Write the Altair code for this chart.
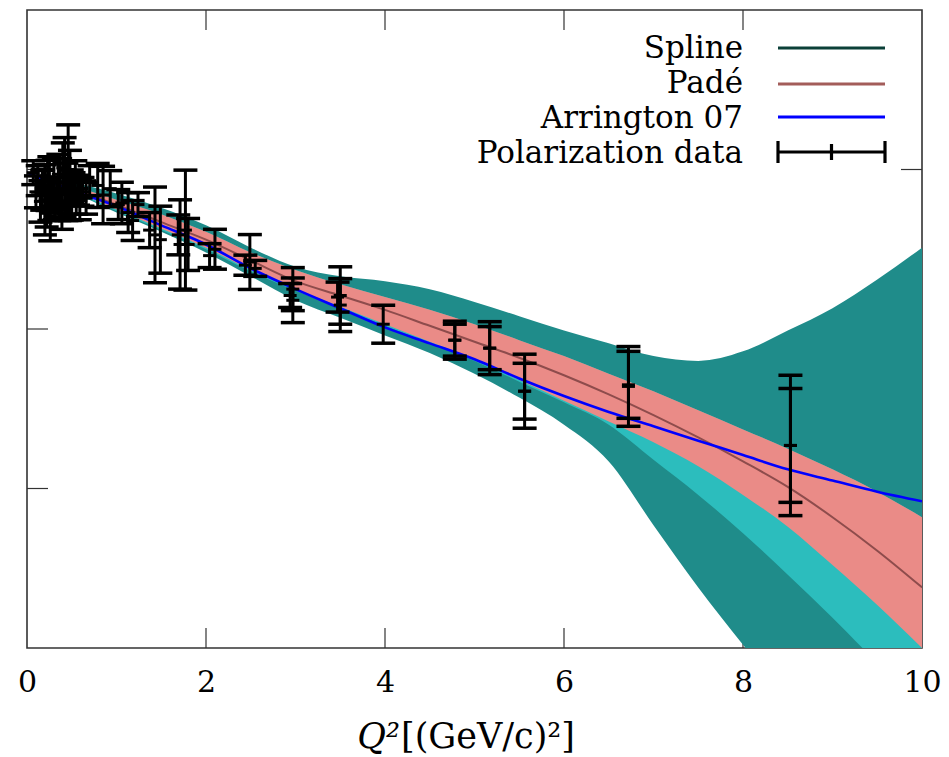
import altair as alt
import pandas as pd

# ---------------- data ----------------
q2_grid = [0, 0.5, 1, 1.5, 2, 2.5, 3, 3.5, 4, 4.5, 5, 5.5, 6, 6.5, 7, 7.5, 8, 8.5, 9, 9.5, 10]

arrington = [2.98, 2.87, 2.77, 2.65, 2.53, 2.38, 2.25, 2.13, 2.01, 1.91, 1.81,
             1.69, 1.58, 1.48, 1.39, 1.30, 1.21, 1.12, 1.05, 0.98, 0.92]
pade = [2.98, 2.88, 2.78, 2.67, 2.56, 2.43, 2.30, 2.21, 2.12, 2.02, 1.92,
        1.82, 1.71, 1.59, 1.46, 1.32, 1.17, 1.01, 0.82, 0.61, 0.38]
pade_hi = [2.98, 2.90, 2.81, 2.72, 2.61, 2.48, 2.37, 2.28, 2.20, 2.12, 2.03,
           1.93, 1.83, 1.72, 1.61, 1.49, 1.37, 1.25, 1.12, 0.98, 0.82]
pade_lo = [2.98, 2.87, 2.75, 2.63, 2.51, 2.37, 2.25, 2.14, 2.03, 1.92, 1.81,
           1.68, 1.55, 1.42, 1.29, 1.14, 0.96, 0.76, 0.52, 0.27, 0.00]
spline_in_hi = [2.98, 2.90, 2.81, 2.72, 2.61, 2.48, 2.37, 2.28, 2.20, 2.12, 2.03,
                1.93, 1.83, 1.72, 1.61, 1.49, 1.37, 1.25, 1.12, 0.98, 0.82]
spline_in_lo = [2.98, 2.86, 2.74, 2.62, 2.50, 2.36, 2.24, 2.13, 2.02, 1.91, 1.80,
                1.67, 1.54, 1.40, 1.18, 0.96, 0.72, 0.46, 0.19, -0.09, -0.33]
spline_out_hi = [2.98, 2.92, 2.85, 2.76, 2.65, 2.51, 2.39, 2.33, 2.30, 2.25, 2.17,
                 2.08, 1.99, 1.91, 1.83, 1.80, 1.86, 1.99, 2.13, 2.31, 2.51]
spline_out_lo = [2.98, 2.86, 2.73, 2.61, 2.48, 2.33, 2.18, 2.07, 1.96, 1.85, 1.72,
                 1.57, 1.40, 1.17, 0.77, 0.38, 0.02, -0.33, -0.64, -0.95, -1.27]

pts_q2 = [0.07, 0.12, 0.17, 0.20, 0.23, 0.28, 0.31, 0.35, 0.37, 0.40, 0.42, 0.46, 0.48, 0.50, 0.54, 0.57, 0.59, 0.39, 0.26,
          0.10, 0.15, 0.18, 0.22, 0.25, 0.30, 0.33, 0.36, 0.44, 0.52, 0.55, 0.62, 0.66,
          0.70, 0.79, 0.85, 0.93,
          1.02, 1.06, 1.13, 1.18, 1.24,
          1.37, 1.43, 1.49,
          1.69, 1.77, 1.71, 1.80,
          2.04, 2.10,
          2.49, 2.44, 2.55,
          2.97, 2.97, 2.94,
          3.50, 3.50, 3.47,
          3.98,
          4.78, 4.78,
          5.17, 5.17,
          5.56, 5.56,
          6.72, 6.72,
          8.53, 8.53]
pts_val = [2.98, 2.93, 2.87, 2.81, 2.90, 2.84, 2.78, 2.97, 2.88, 3.01, 2.95, 3.00, 2.90, 2.84, 2.93, 2.87, 2.81, 2.75, 2.71,
           2.86, 2.80, 2.92, 2.76, 2.88, 2.92, 2.85, 2.80, 2.86, 2.88, 2.80, 2.86, 2.82,
           2.93, 2.90, 2.84, 2.88,
           2.78, 2.79, 2.73, 2.68, 2.78,
           2.62, 2.59, 2.56,
           2.59, 2.62, 2.53, 2.53,
           2.46, 2.50,
           2.42, 2.40, 2.38,
           2.25, 2.18, 2.21,
           2.21, 2.15, 2.20,
           2.03,
           1.93, 1.93,
           1.88, 1.88,
           1.61, 1.61,
           1.64, 1.65,
           1.27, 1.27]
pts_err = [0.075, 0.094, 0.125, 0.22, 0.157, 0.113, 0.094, 0.125, 0.188, 0.157, 0.25, 0.28, 0.22, 0.157, 0.125, 0.094, 0.125, 0.125, 0.157,
           0.10, 0.13, 0.08, 0.12, 0.20, 0.15, 0.10, 0.12, 0.18, 0.10, 0.08, 0.09, 0.10,
           0.094, 0.138, 0.18, 0.113,
           0.094, 0.13, 0.125, 0.125, 0.075,
           0.11, 0.30, 0.21,
           0.125, 0.376, 0.28, 0.163,
           0.075, 0.125,
           0.172, 0.063, 0.05,
           0.135, 0.14, 0.075,
           0.18, 0.166, 0.094,
           0.119,
           0.119, 0.10,
           0.166, 0.135,
           0.232, 0.175,
           0.25, 0.21,
           0.44, 0.357]

x_tick_labels = [0, 2, 4, 6, 8, 10]
x_inner_ticks = [2, 4, 6, 8]
y_inner_ticks = [1, 2, 3]

legend_labels = ["Spline", "Padé", "Arrington 07", "Polarization data"]

# ---------------- styling ----------------
W, H = 895, 638
FONT = "DejaVu Serif"
C_OUT = "#1f8c8a"
C_IN = "#2cbdbd"
C_PINK = "#ea8b87"
C_PADE = "#8e4c4c"
C_PADE_LEG = "#a35d5a"
C_SPLINE_LEG = "#0b4038"
C_BLUE = "#0000ff"
C_FRAME = "#333333"

curves = pd.DataFrame({
    "q2": q2_grid, "arr": arrington, "pade": pade,
    "p_hi": pade_hi, "p_lo": pade_lo,
    "si_hi": spline_in_hi, "si_lo": spline_in_lo,
    "so_hi": spline_out_hi, "so_lo": spline_out_lo,
})
pts = pd.DataFrame({"q2": pts_q2, "val": pts_val, "err": pts_err})
pts["lo"] = pts["val"] - pts["err"]
pts["hi"] = pts["val"] + pts["err"]

xs = alt.Scale(domain=[0, 10], nice=False, zero=False)
ys = alt.Scale(domain=[0, 4], nice=False, zero=False)
xaxis = alt.Axis(values=x_tick_labels, ticks=False, tickSize=0, domain=False, grid=False,
                 labelFont=FONT, labelFontSize=30, labelColor="black", labelPadding=19,
                 labelFlush=False, title=None)


def X(f):
    return alt.X(f, type="quantitative", scale=xs, axis=xaxis)


def Y(f):
    return alt.Y(f, type="quantitative", scale=ys, axis=None)


layers = []

# inward ticks (drawn first, below bands)
xt = pd.DataFrame({"t": x_inner_ticks})
yt = pd.DataFrame({"t": y_inner_ticks})
tick_style = dict(color=C_FRAME, strokeWidth=1.2)
layers.append(alt.Chart(xt).mark_rule(**tick_style).encode(x=X("t"), y=alt.value(H), y2=alt.value(H - 20)))
layers.append(alt.Chart(xt).mark_rule(**tick_style).encode(x=X("t"), y=alt.value(0), y2=alt.value(20)))
layers.append(alt.Chart(yt).mark_rule(**tick_style).encode(y=Y("t"), x=alt.value(0), x2=alt.value(21)))
layers.append(alt.Chart(yt).mark_rule(**tick_style).encode(y=Y("t"), x=alt.value(W - 21), x2=alt.value(W)))

# bands
base = alt.Chart(curves)
layers.append(base.mark_area(color=C_OUT, interpolate="monotone", clip=True, opacity=1)
              .encode(x=X("q2"), y=Y("so_lo"), y2=alt.Y2("so_hi")))
layers.append(base.mark_area(color=C_IN, interpolate="monotone", clip=True, opacity=1)
              .encode(x=X("q2"), y=Y("si_lo"), y2=alt.Y2("si_hi")))
layers.append(base.mark_area(color=C_PINK, interpolate="monotone", clip=True, opacity=1)
              .encode(x=X("q2"), y=Y("p_lo"), y2=alt.Y2("p_hi")))
layers.append(base.mark_line(color=C_PADE, strokeWidth=2, interpolate="monotone", clip=True)
              .encode(x=X("q2"), y=Y("pade")))
layers.append(base.mark_line(color=C_BLUE, strokeWidth=2.6, interpolate="monotone", clip=True)
              .encode(x=X("q2"), y=Y("arr")))

# error bars
pb = alt.Chart(pts)
layers.append(pb.mark_rule(color="black", strokeWidth=3, opacity=1).encode(x=X("q2"), y=Y("lo"), y2=alt.Y2("hi")))
layers.append(pb.mark_tick(color="black", orient="horizontal", size=24, thickness=3.5, opacity=1)
              .encode(x=X("q2"), y=Y("lo")))
layers.append(pb.mark_tick(color="black", orient="horizontal", size=24, thickness=3.5, opacity=1)
              .encode(x=X("q2"), y=Y("hi")))
layers.append(pb.mark_tick(color="black", orient="horizontal", size=13, thickness=3, opacity=1)
              .encode(x=X("q2"), y=Y("val")))

# legend (text right-aligned, sample to the right)
one = pd.DataFrame({"a": [0]})
leg_y_text = [48, 83, 118, 153]
leg_y_line = [38, 74, 107, 142]
leg_colors = [C_SPLINE_LEG, C_PADE_LEG, C_BLUE]
for i, lab in enumerate(legend_labels):
    layers.append(alt.Chart(one).mark_text(text=lab, font=FONT, fontSize=31, align="right",
                                           baseline="alphabetic", color="black")
                  .encode(x=alt.value(716), y=alt.value(leg_y_text[i])))
for i, col in enumerate(leg_colors):
    layers.append(alt.Chart(one).mark_rule(color=col, strokeWidth=3)
                  .encode(x=alt.value(751), x2=alt.value(858), y=alt.value(leg_y_line[i])))
ey = leg_y_line[3]
layers.append(alt.Chart(one).mark_rule(color="black", strokeWidth=2.8)
              .encode(x=alt.value(751), x2=alt.value(858), y=alt.value(ey)))
for xv, half in [(751, 11), (858, 11), (804.5, 8)]:
    layers.append(alt.Chart(one).mark_rule(color="black", strokeWidth=3.2)
                  .encode(x=alt.value(xv), y=alt.value(ey - half), y2=alt.value(ey + half)))

# x-axis title: italic Q² followed by roman unit
layers.append(alt.Chart(one).mark_text(text="Q²", font=FONT, fontStyle="italic", fontSize=35,
                                       align="right", baseline="alphabetic", color="black")
              .encode(x=alt.value(373), y=alt.value(738)))
layers.append(alt.Chart(one).mark_text(text="[(GeV/c)²]", font=FONT, fontSize=35,
                                       align="left", baseline="alphabetic", color="black")
              .encode(x=alt.value(374), y=alt.value(738)))

chart = alt.layer(*layers).properties(
    width=W, height=H,
    autosize=alt.AutoSizeParams(type="none"),
    padding={"left": 27, "top": 10, "right": 27, "bottom": 109},
    background="white",
).configure_view(stroke=C_FRAME, strokeWidth=1.6)

chart.save("out.html", embed_options={"renderer": "svg", "actions": False})
